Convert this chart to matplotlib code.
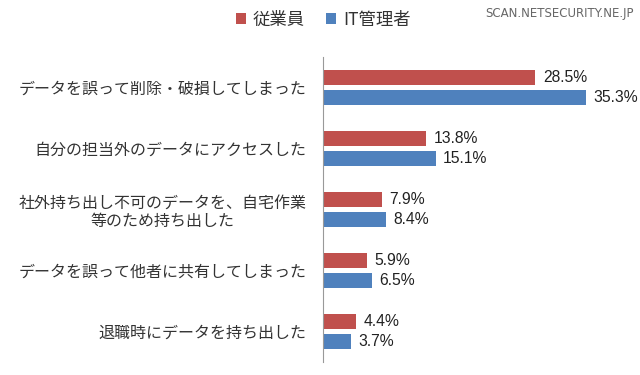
import matplotlib
matplotlib.use('Agg')
import matplotlib.pyplot as plt
import numpy as np

plt.rcParams['font.family'] = ['Noto Sans CJK JP', 'DejaVu Sans']

# Dane
categories = [
    'データを誤って削除・破損してしまった',
    '自分の担当外のデータにアクセスした',
    '社外持ち出し不可のデータを、自宅作業\n等のため持ち出した',
    'データを誤って他者に共有してしまった',
    '退職時にデータを持ち出した',
]
employees = [28.5, 13.8, 7.9, 5.9, 4.4]
it_admins = [35.3, 15.1, 8.4, 6.5, 3.7]
series_names = ['従業員', 'IT管理者']

RED = '#C0504D'
BLUE = '#4F81BD'

fig = plt.figure(figsize=(6.4, 3.75), dpi=100)
ax = fig.add_axes([0.505, 0.035, 0.465, 0.813])

y = np.arange(len(categories))
h = 0.25
off = 0.168
b1 = ax.barh(y - off, employees, height=h, color=RED, label=series_names[0])
b2 = ax.barh(y + off, it_admins, height=h, color=BLUE, label=series_names[1])

# Etykiety wartości
for bars, vals in [(b1, employees), (b2, it_admins)]:
    for bar, v in zip(bars, vals):
        ax.annotate(f'{v}%', (v, bar.get_y() + bar.get_height() / 2),
                    xytext=(5.5, 0), textcoords='offset points',
                    ha='left', va='center', fontsize=11.3, color='#222222',
                    family=['Liberation Sans', 'DejaVu Sans'])

ax.set_xlim(0, 40)
ax.set_ylim(len(categories) - 0.5, -0.5)
ax.set_xticks([])
ax.set_yticks(y)
ax.set_yticklabels(categories, fontsize=11.5, color='#333333',
                   multialignment='center', linespacing=1.1)
ax.tick_params(axis='y', length=0, pad=12)
for s in ['top', 'right', 'bottom']:
    ax.spines[s].set_visible(False)
ax.spines['left'].set_color('#999999')

fig.legend(handles=[b1, b2], labels=series_names, loc='center',
           bbox_to_anchor=(0.505, 0.948), ncol=2, frameon=False,
           fontsize=12.5, handlelength=0.6, handleheight=0.6,
           handletextpad=0.4, columnspacing=1.2, labelcolor='#333333')

fig.text(0.99, 0.965, 'SCAN.NETSECURITY.NE.JP', ha='right', va='center',
         fontsize=8.5, color='#666666', family=['DejaVu Sans'])

fig.savefig('out.png', dpi=100, facecolor='white')
